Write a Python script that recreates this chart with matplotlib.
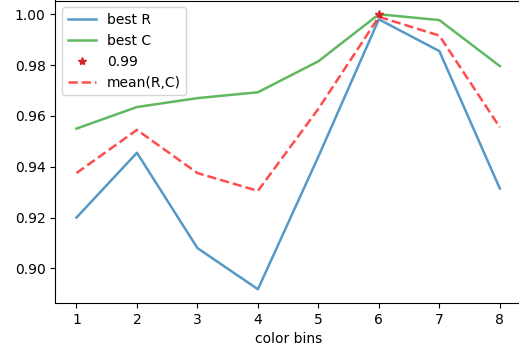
import matplotlib
matplotlib.use("Agg")
import matplotlib.pyplot as plt

# color bins on the x axis
bins = [1, 2, 3, 4, 5, 6, 7, 8]

# scores
best_r = [0.920, 0.9455, 0.908, 0.8918, 0.944, 0.998, 0.9855, 0.9314]
best_c = [0.955, 0.9635, 0.967, 0.9693, 0.9815, 1.000, 0.9977, 0.9796]
mean_rc = [0.9375, 0.9545, 0.9375, 0.9305, 0.9628, 0.999, 0.9916, 0.9555]

# the single starred point
star_x = [6]
star_y = [1.000]

fig = plt.figure(figsize=(5.19, 3.52), dpi=100)
# axes reach past the right edge, like the cropped original
ax = fig.add_axes([55.3 / 519, 49 / 352, (521 - 55.3) / 519, 302.5 / 352])

ax.plot(bins, best_r, color='tab:blue', alpha=0.75, lw=1.8, label='best R')
ax.plot(bins, best_c, color='tab:green', alpha=0.75, lw=1.8, label='best C')
ax.plot(star_x, star_y, '*', color='tab:red', ms=6, label='0.99')
ax.plot(bins, mean_rc, '--', color='red', alpha=0.7, lw=1.8, label='mean(R,C)')

ax.set_xticks(bins)
ax.set_yticks([0.90, 0.92, 0.94, 0.96, 0.98, 1.00])
ax.set_yticklabels(['0.90', '0.92', '0.94', '0.96', '0.98', '1.00'])
ax.set_xlabel('color bins')
ax.legend(loc='upper left')

fig.savefig('out.png', dpi=100)
